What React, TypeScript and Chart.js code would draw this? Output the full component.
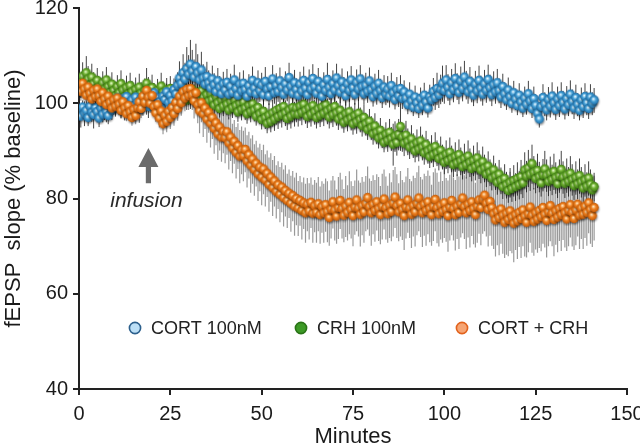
import { useEffect, useRef } from "react";
import { Chart, registerables } from "chart.js";

Chart.register(...registerables);

// sampling: one point every 30 s
const minutes: number[] = Array.from({ length: 283 }, (_, i) => i * 0.5);

const cortValues: number[] = [
  98.6, 97.2, 99.1, 97.8, 98.4, 96.9, 99.3, 98.0, 97.5, 99.0,
  98.2, 96.8, 98.9, 97.6, 99.4, 98.1, 97.3, 99.6, 98.5, 100.2,
  99.1, 101.0, 99.7, 98.6, 100.8, 99.5, 101.3, 100.0, 98.9, 100.6,
  99.4, 101.2, 100.1, 98.7, 100.9, 99.8, 101.5, 100.3, 99.2, 101.7,
  100.5, 102.1, 99.6, 101.0, 100.2, 98.9, 101.4, 100.7, 102.3, 100.1,
  101.6, 100.4, 102.8, 101.9, 103.7, 105.2, 104.1, 106.3, 105.0, 107.2,
  106.0, 108.1, 106.7, 105.4, 107.6, 106.3, 104.8, 106.9, 105.2, 103.9,
  105.5, 104.2, 103.1, 105.0, 103.8, 102.4, 104.6, 103.3, 101.9, 104.0,
  102.7, 104.3, 101.8, 103.5, 102.2, 104.8, 103.0, 101.6, 103.9, 102.5,
  104.1, 102.8, 101.4, 103.6, 102.3, 104.7, 103.1, 101.9, 104.2, 102.6,
  103.8, 101.7, 104.5, 102.9, 101.5, 103.4, 105.0, 102.1, 103.7, 102.4,
  104.6, 103.2, 101.8, 104.0, 102.7, 105.3, 103.5, 102.0, 104.2, 102.8,
  101.6, 103.9, 102.5, 104.7, 103.1, 101.7, 104.3, 102.9, 105.1, 103.4,
  102.0, 104.5, 103.0, 101.4, 103.8, 102.6, 104.9, 103.3, 101.9, 104.1,
  102.7, 105.2, 103.6, 102.2, 104.4, 103.0, 101.5, 104.0, 102.6, 104.8,
  103.2, 101.8, 104.3, 102.9, 105.0, 103.4, 101.9, 103.7, 102.4, 104.6,
  102.8, 101.3, 103.5, 102.0, 104.1, 102.6, 101.1, 103.3, 101.8, 102.9,
  101.4, 103.6, 102.1, 100.7, 102.8, 101.5, 103.0, 100.9, 102.3, 101.0,
  99.6, 101.8, 100.4, 99.1, 101.2, 100.0, 98.8, 100.9, 99.5, 101.6,
  100.2, 98.9, 101.3, 100.6, 102.4, 101.1, 103.0, 101.7, 102.9, 104.1,
  102.6, 104.8, 103.3, 101.9, 104.2, 102.8, 105.1, 103.5, 102.2, 104.6,
  103.0, 105.4, 103.8, 102.3, 104.5, 102.9, 101.6, 103.9, 102.5, 104.7,
  103.1, 101.8, 104.0, 102.6, 104.9, 103.2, 101.7, 103.8, 102.3, 104.2,
  102.6, 101.2, 103.4, 101.9, 100.6, 102.7, 101.3, 99.9, 102.1, 100.8,
  99.4, 101.6, 100.2, 98.9, 101.0, 99.7, 101.9, 100.4, 98.8, 100.9,
  99.5, 97.8, 96.6, 99.2, 101.1, 99.8, 98.5, 100.7, 99.3, 101.4,
  100.0, 98.6, 100.8, 99.4, 101.5, 100.1, 98.7, 100.9, 99.6, 101.8,
  100.3, 98.9, 101.1, 99.7, 98.4, 100.6, 99.2, 101.3, 100.0, 98.8,
  101.2, 99.9, 100.6,
];

const crhValues: number[] = [
  104.5, 103.2, 105.6, 104.1, 106.3, 105.0, 103.8, 105.4, 104.0, 102.9,
  104.7, 103.3, 102.1, 104.2, 102.9, 104.8, 103.4, 102.2, 103.9, 102.6,
  101.5, 103.4, 102.1, 104.0, 102.7, 101.3, 103.2, 101.9, 103.6, 102.3,
  101.0, 102.8, 101.6, 103.3, 102.0, 100.8, 102.5, 104.1, 102.9, 101.6,
  103.2, 101.9, 100.7, 102.6, 101.3, 103.5, 102.2, 100.9, 102.7, 101.4,
  103.0, 101.7, 100.5, 102.4, 101.1, 102.9, 101.6, 103.1, 101.8, 100.6,
  102.3, 101.0, 102.8, 101.5, 100.3, 102.1, 100.8, 102.5, 101.2, 99.9,
  101.7, 100.4, 102.0, 100.7, 99.5, 101.3, 100.0, 98.8, 100.6, 99.3,
  101.0, 99.7, 98.5, 100.3, 99.0, 100.7, 99.4, 98.1, 99.9, 98.6,
  100.2, 98.9, 97.7, 99.5, 98.2, 99.8, 98.5, 97.2, 99.0, 97.7,
  96.5, 98.2, 96.9, 95.7, 97.4, 96.1, 97.9, 96.6, 98.4, 97.1,
  98.8, 97.5, 99.2, 97.9, 96.7, 98.5, 97.2, 99.0, 97.7, 98.9,
  97.6, 99.3, 98.0, 99.7, 98.4, 97.1, 98.9, 97.6, 99.4, 98.1,
  96.9, 98.7, 97.4, 99.1, 97.8, 99.6, 98.3, 97.0, 98.8, 97.5,
  99.2, 97.9, 96.6, 98.4, 97.1, 95.9, 97.7, 96.4, 98.1, 96.8,
  95.6, 97.3, 96.0, 97.8, 96.5, 95.2, 96.9, 95.6, 94.4, 96.1,
  94.8, 93.5, 95.1, 93.8, 92.6, 94.2, 92.9, 91.7, 93.4, 92.1,
  93.8, 92.5, 91.3, 93.0, 91.7, 93.4, 95.0, 92.8, 91.5, 93.2,
  91.9, 90.7, 92.4, 91.1, 89.9, 91.6, 90.3, 92.0, 90.7, 89.5,
  91.2, 89.9, 88.7, 90.4, 89.1, 90.8, 89.5, 88.3, 90.0, 88.7,
  87.5, 89.2, 87.9, 89.6, 88.3, 87.0, 88.7, 87.4, 89.1, 87.8,
  86.6, 88.3, 87.0, 88.8, 87.5, 86.2, 87.9, 86.6, 88.4, 87.1,
  85.9, 87.6, 86.3, 85.0, 86.7, 85.4, 84.2, 85.9, 84.6, 83.3,
  85.0, 83.7, 82.4, 84.1, 82.8, 81.6, 83.3, 82.0, 83.7, 82.4,
  84.1, 82.8, 84.5, 83.2, 85.9, 84.6, 86.3, 85.0, 87.2, 85.4,
  84.1, 85.8, 84.5, 83.2, 84.9, 86.1, 84.8, 83.5, 85.2, 83.9,
  85.6, 84.3, 83.0, 84.7, 86.0, 84.4, 83.1, 84.8, 83.5, 85.2,
  83.9, 82.6, 84.3, 83.0, 84.7, 83.4, 82.1, 83.8, 82.5, 84.2,
  82.9, 81.7, 82.4,
];

const cortCrhValues: number[] = [
  103.8, 102.4, 104.1, 102.9, 101.6, 103.3, 102.0, 100.8, 102.6, 101.3,
  102.9, 101.5, 100.3, 102.1, 100.8, 99.6, 101.4, 100.1, 98.9, 100.6,
  99.3, 101.0, 99.7, 98.4, 100.2, 98.9, 97.7, 99.4, 98.1, 96.9,
  98.6, 97.3, 99.0, 100.2, 98.8, 101.4, 100.1, 102.6, 101.2, 99.9,
  101.5, 99.2, 97.9, 99.6, 96.8, 98.3, 95.6, 97.4, 96.1, 98.2,
  96.9, 99.0, 97.7, 100.1, 98.8, 101.4, 100.0, 102.3, 101.0, 102.8,
  101.5, 103.0, 101.7, 100.4, 102.1, 99.6, 98.3, 100.0, 97.7, 98.9,
  96.6, 98.0, 95.7, 96.9, 94.6, 95.8, 93.5, 94.9, 92.8, 94.0,
  92.7, 93.9, 91.6, 92.8, 90.5, 91.9, 89.6, 91.0, 88.8, 90.1,
  88.9, 90.2, 87.8, 89.1, 86.9, 88.2, 86.0, 87.3, 85.1, 86.5,
  84.4, 86.1, 83.8, 85.2, 82.9, 84.4, 82.2, 83.6, 81.4, 82.8,
  80.8, 82.3, 80.1, 81.6, 79.5, 81.0, 78.9, 80.5, 78.3, 79.9,
  77.9, 79.5, 77.4, 79.0, 76.9, 78.7, 77.3, 79.1, 76.8, 78.4,
  77.0, 78.8, 76.5, 78.2, 76.9, 78.6, 77.2, 75.9, 77.7, 79.2,
  77.5, 76.2, 78.0, 79.5, 77.8, 76.4, 78.3, 77.0, 79.1, 77.6,
  76.3, 78.1, 79.6, 77.9, 76.6, 78.4, 77.1, 78.9, 80.1, 78.2,
  76.9, 78.7, 77.4, 79.2, 77.8, 76.5, 78.3, 79.8, 78.0, 76.7,
  78.5, 77.2, 79.0, 80.2, 78.4, 77.1, 78.9, 77.6, 76.3, 78.1,
  79.6, 77.9, 76.6, 78.4, 77.1, 78.9, 80.0, 78.2, 76.9, 78.7,
  77.4, 79.2, 77.8, 76.5, 78.3, 79.7, 78.0, 76.7, 78.5, 77.2,
  79.0, 77.6, 76.3, 78.1, 79.5, 77.8, 76.5, 78.3, 77.0, 78.8,
  80.0, 78.2, 76.9, 78.7, 77.4, 79.2, 77.8, 76.5, 78.3, 79.6,
  78.0, 79.8, 80.6, 78.9, 77.6, 79.3, 78.0, 76.7, 75.4, 77.2,
  75.9, 77.7, 76.4, 74.9, 76.8, 75.5, 77.3, 76.0, 74.7, 76.5,
  75.2, 77.0, 75.7, 77.5, 76.2, 74.9, 76.7, 78.1, 76.4, 75.1,
  76.9, 75.6, 77.4, 76.1, 78.0, 76.6, 75.3, 77.1, 78.4, 76.8,
  75.5, 77.3, 76.0, 77.8, 76.5, 78.2, 76.9, 75.6, 77.4, 78.6,
  77.0, 75.7, 77.5, 78.7, 76.4, 77.9, 76.6, 78.3, 77.0, 79.0,
  77.6, 76.3, 78.0,
];

const cortErr: number[] = [
  1.8, 2.3, 1.5, 2.6, 2.0, 1.7, 2.4, 1.9, 2.8, 1.6,
  2.2, 1.8, 2.5, 1.6, 2.9, 2.1, 1.7, 2.4, 2.0, 2.6,
  1.9, 2.7, 2.2, 1.8, 2.5, 3.1, 2.0, 2.4, 1.7, 2.3,
  2.6, 1.9, 2.2, 2.8, 1.8, 2.4, 2.0, 2.7, 2.3, 1.9,
  2.5, 2.1, 2.8, 1.9, 2.4, 2.0, 2.6, 2.2, 1.8, 2.5,
  2.2, 2.9, 2.4, 3.2, 2.8, 3.6, 3.1, 4.0, 3.5, 4.6,
  4.1, 5.2, 4.5, 3.8, 4.9, 4.0, 3.4, 3.9, 3.0, 2.6,
  3.2, 2.7, 2.3, 2.9, 2.5, 2.1, 2.8, 2.4, 2.0, 2.6,
  2.3, 2.9, 2.1, 2.7, 2.4, 3.3, 2.2, 1.9, 2.6, 2.3,
  2.8, 2.2, 1.9, 2.5, 2.1, 3.0, 2.4, 2.0, 2.7, 2.3,
  2.6, 2.0, 3.1, 2.4, 1.9, 2.5, 3.0, 2.2, 2.6, 2.1,
  2.9, 2.4, 2.0, 2.7, 2.3, 3.2, 2.5, 2.1, 2.8, 2.4,
  2.0, 2.7, 2.3, 3.0, 2.5, 2.1, 2.8, 2.4, 3.1, 2.6,
  2.2, 2.9, 2.4, 2.0, 2.7, 2.3, 3.6, 2.6, 2.1, 2.8,
  2.4, 3.1, 2.6, 2.2, 2.9, 2.5, 2.0, 2.7, 2.3, 3.0,
  2.5, 2.1, 2.8, 2.4, 3.0, 2.6, 2.2, 2.7, 2.3, 2.9,
  2.4, 2.0, 2.7, 2.3, 2.9, 2.5, 2.1, 2.6, 2.2, 2.8,
  2.3, 2.8, 2.4, 2.0, 2.7, 2.3, 2.9, 2.1, 2.5, 2.2,
  1.9, 2.6, 2.2, 1.8, 2.5, 2.1, 1.9, 2.4, 2.0, 2.7,
  2.3, 1.9, 2.6, 2.2, 2.9, 2.5, 3.4, 2.7, 3.1, 3.8,
  2.7, 3.2, 2.8, 2.3, 3.0, 2.6, 3.3, 2.8, 2.4, 3.1,
  2.6, 3.5, 3.0, 2.4, 3.1, 2.7, 2.2, 2.9, 2.5, 3.2,
  2.7, 2.3, 3.0, 2.5, 3.2, 2.8, 2.3, 2.9, 2.4, 3.0,
  2.6, 2.2, 2.8, 2.4, 2.0, 2.7, 2.3, 1.9, 2.6, 2.2,
  1.9, 2.6, 2.2, 1.8, 2.5, 2.1, 2.8, 2.3, 1.9, 2.6,
  2.2, 1.8, 1.7, 2.4, 2.9, 2.5, 2.1, 2.7, 2.3, 3.0,
  2.5, 2.1, 2.7, 2.3, 2.9, 2.5, 2.1, 2.7, 2.3, 3.0,
  2.6, 2.2, 2.8, 2.4, 2.0, 2.7, 2.3, 2.9, 2.5, 2.1,
  2.8, 2.4, 2.6,
];

const crhErr: number[] = [
  2.6, 2.1, 3.0, 2.4, 3.6, 2.8, 2.3, 2.9, 2.5, 2.0,
  2.7, 2.2, 1.9, 2.5, 2.1, 2.8, 2.3, 1.9, 2.6, 2.2,
  1.8, 2.5, 2.1, 2.9, 2.3, 1.9, 2.6, 2.2, 2.8, 2.4,
  2.0, 2.6, 2.2, 2.9, 2.4, 2.0, 2.7, 3.3, 2.6, 2.1,
  2.8, 2.3, 1.9, 2.5, 2.1, 2.9, 2.4, 2.0, 2.6, 2.2,
  2.7, 2.3, 1.9, 2.5, 2.1, 2.6, 2.2, 2.8, 2.4, 2.0,
  2.6, 2.2, 2.8, 2.4, 2.0, 2.6, 2.2, 2.8, 2.3, 1.9,
  2.6, 2.2, 2.7, 2.3, 1.9, 2.5, 2.1, 1.8, 2.4, 2.0,
  2.6, 2.2, 1.9, 2.5, 2.1, 2.7, 2.3, 2.0, 2.6, 2.2,
  2.8, 2.4, 2.0, 2.6, 2.2, 2.7, 2.3, 1.9, 2.5, 2.1,
  2.0, 2.7, 2.3, 2.0, 2.6, 2.2, 2.8, 2.4, 2.9, 2.5,
  3.0, 2.6, 3.1, 2.7, 2.3, 2.9, 2.5, 3.0, 2.6, 2.9,
  2.5, 3.0, 2.6, 3.1, 2.7, 2.3, 2.9, 2.5, 3.0, 2.6,
  2.2, 2.8, 2.4, 3.0, 2.6, 3.1, 2.7, 2.3, 2.9, 2.5,
  3.0, 2.6, 2.2, 2.8, 2.4, 2.1, 2.7, 2.3, 2.9, 2.5,
  2.2, 2.8, 2.4, 3.0, 2.6, 2.2, 2.8, 2.4, 2.1, 2.7,
  2.5, 2.2, 2.8, 2.4, 2.1, 2.7, 2.3, 2.0, 2.6, 2.3,
  2.9, 2.5, 4.4, 3.2, 2.7, 3.3, 5.0, 3.0, 2.6, 3.1,
  2.8, 2.4, 3.0, 2.6, 2.3, 2.9, 2.5, 3.1, 2.7, 2.4,
  3.0, 2.6, 2.3, 2.9, 2.5, 3.1, 2.7, 2.4, 3.0, 2.6,
  2.4, 3.0, 2.6, 3.2, 2.8, 2.5, 3.1, 2.7, 3.3, 2.9,
  2.6, 3.2, 2.8, 3.4, 3.0, 2.6, 3.2, 2.8, 3.4, 3.0,
  2.7, 3.3, 2.9, 2.6, 3.2, 2.8, 2.5, 3.1, 2.8, 2.5,
  3.1, 2.8, 2.5, 3.1, 2.8, 2.5, 3.1, 2.7, 3.3, 2.9,
  3.5, 3.0, 3.6, 3.1, 3.8, 3.3, 3.9, 3.4, 4.1, 3.5,
  3.0, 3.6, 3.2, 2.8, 3.4, 3.9, 3.4, 3.0, 3.6, 3.2,
  3.8, 3.3, 2.9, 3.5, 4.0, 3.4, 3.0, 3.6, 3.1, 3.7,
  3.3, 2.9, 3.5, 3.1, 3.7, 3.2, 2.8, 3.4, 3.0, 3.6,
  3.2, 2.8, 3.0,
];

const cortCrhErr: number[] = [
  1.6, 1.9, 1.4, 1.8, 1.5, 2.0, 1.7, 1.4, 1.9, 1.6,
  2.0, 1.7, 1.5, 1.9, 1.6, 1.4, 1.8, 1.6, 1.5, 1.9,
  1.7, 2.0, 1.8, 1.5, 1.9, 1.7, 1.5, 2.0, 1.8, 1.6,
  2.0, 1.7, 2.1, 2.3, 1.9, 2.2, 2.0, 2.4, 2.1, 1.9,
  2.3, 2.0, 1.8, 2.2, 1.9, 2.4, 2.1, 2.5, 2.2, 2.6,
  2.3, 2.7, 2.4, 2.8, 2.5, 2.9, 2.6, 3.0, 2.7, 3.1,
  2.9, 3.4, 3.1, 3.6, 4.2, 3.8, 4.6, 4.0, 4.8, 4.3,
  4.9, 4.2, 5.0, 4.4, 5.2, 4.6, 5.4, 4.8, 5.1, 4.5,
  5.3, 4.7, 5.5, 4.9, 5.2, 4.6, 5.4, 4.8, 5.6, 5.0,
  5.3, 4.7, 5.5, 4.9, 5.7, 5.1, 5.4, 4.8, 5.6, 5.0,
  5.8, 5.2, 5.5, 4.9, 5.7, 5.1, 5.9, 5.3, 5.6, 5.0,
  5.8, 5.2, 6.0, 5.4, 5.7, 5.1, 5.9, 5.3, 6.1, 5.5,
  5.8, 5.2, 6.0, 5.4, 6.2, 5.6, 5.9, 5.3, 6.1, 5.5,
  6.3, 5.7, 6.0, 5.4, 6.2, 5.6, 6.4, 5.8, 6.1, 5.5,
  6.3, 5.7, 6.5, 5.9, 6.2, 5.6, 6.4, 5.8, 6.6, 6.0,
  6.3, 5.7, 6.5, 5.9, 6.7, 6.1, 6.4, 5.8, 6.6, 6.0,
  6.8, 6.2, 6.5, 5.9, 6.7, 6.1, 6.9, 6.3, 6.6, 6.0,
  6.8, 6.2, 7.0, 6.4, 6.7, 6.1, 6.9, 6.3, 7.1, 6.5,
  6.8, 6.2, 7.0, 6.4, 7.2, 6.6, 6.9, 6.3, 7.1, 6.5,
  7.3, 6.7, 7.0, 6.4, 7.2, 6.6, 7.4, 6.8, 7.1, 6.5,
  7.3, 6.7, 7.5, 6.9, 7.2, 6.6, 7.4, 6.8, 7.6, 7.0,
  7.3, 6.7, 7.5, 6.9, 7.7, 7.1, 7.4, 6.8, 7.6, 7.0,
  7.8, 7.2, 7.5, 6.9, 7.7, 7.1, 7.9, 7.3, 7.6, 7.0,
  7.8, 7.2, 8.0, 7.4, 8.6, 7.6, 8.3, 7.5, 8.1, 7.3,
  7.9, 7.2, 8.2, 7.5, 8.4, 7.3, 8.0, 7.4, 7.8, 7.1,
  7.6, 7.0, 7.8, 7.2, 7.5, 6.9, 7.7, 7.1, 7.4, 6.8,
  7.6, 7.0, 7.3, 6.7, 7.5, 6.9, 7.2, 6.6, 7.4, 6.8,
  7.1, 6.5, 7.3, 6.7, 7.0, 6.4, 7.2, 6.6, 6.9, 6.3,
  7.1, 6.5, 6.8,
];

const seriesLabels: string[] = ["CORT 100nM", "CRH 100nM", "CORT + CRH"];
const xTicks: number[] = [0, 25, 50, 75, 100, 125, 150];
const yTicks: number[] = [40, 60, 80, 100, 120];

// annotation anchor (data units)
const infusionX = 19;
const infusionArrow = { tip: 90.6, headBase: 86.6, tail: 83.2 };
const infusionTextY = 78.2;

const FONT = "'Liberation Sans', Arial, Helvetica, sans-serif";

function makeSprite(light: string, base: string, edge: string): HTMLCanvasElement {
  const c = document.createElement("canvas");
  c.width = 14;
  c.height = 14;
  const g = c.getContext("2d")!;
  g.shadowColor = "rgba(0,0,0,0.45)";
  g.shadowBlur = 2;
  g.shadowOffsetX = 0.5;
  g.shadowOffsetY = 1.5;
  const grad = g.createRadialGradient(6.2, 5.4, 0.3, 7, 6.5, 4.8);
  grad.addColorStop(0, light);
  grad.addColorStop(0.45, base);
  grad.addColorStop(1, edge);
  g.fillStyle = grad;
  g.beginPath();
  g.arc(7, 6.5, 4.7, 0, Math.PI * 2);
  g.fill();
  return c;
}

export default function App() {
  const ref = useRef<HTMLCanvasElement | null>(null);

  useEffect(() => {
    document.body.style.margin = "0";
    const canvas = ref.current;
    if (!canvas) return;

    const spriteBlue = makeSprite("#e6f6ff", "#45a0d6", "#1d6aa3");
    const spriteGreen = makeSprite("#e2f8c4", "#6fb032", "#3d7d12");
    const spriteOrange = makeSprite("#ffe6bf", "#ee801f", "#c05806");

    const errorBars = {
      id: "errorBars",
      beforeDatasetsDraw(chart: any) {
        const { ctx, scales } = chart;
        const sx = scales.x;
        const sy = scales.y;
        const groups: [number[], number[], string, number][] = [
          [cortCrhValues, cortCrhErr, "rgba(128,128,128,0.8)", 1.2],
          [crhValues, crhErr, "rgba(20,20,20,0.8)", 1],
          [cortValues, cortErr, "rgba(20,20,20,0.8)", 1],
        ];
        ctx.save();
        ctx.beginPath();
        ctx.rect(chart.chartArea.left, chart.chartArea.top, chart.chartArea.width, chart.chartArea.height);
        ctx.clip();
        for (const [vals, errs, color, w] of groups) {
          ctx.strokeStyle = color;
          ctx.lineWidth = w;
          ctx.beginPath();
          for (let i = 0; i < vals.length; i++) {
            const px = sx.getPixelForValue(minutes[i]);
            ctx.moveTo(px, sy.getPixelForValue(vals[i] - errs[i]));
            ctx.lineTo(px, sy.getPixelForValue(vals[i] + errs[i]));
          }
          ctx.stroke();
        }
        ctx.restore();
      },
    };

    const overlay = {
      id: "overlay",
      afterDatasetsDraw(chart: any) {
        const { ctx, scales, chartArea } = chart;
        const sx = scales.x;
        const sy = scales.y;
        ctx.save();
        const ax = sx.getPixelForValue(infusionX);
        const tip = sy.getPixelForValue(infusionArrow.tip);
        const hb = sy.getPixelForValue(infusionArrow.headBase);
        const tail = sy.getPixelForValue(infusionArrow.tail);
        ctx.fillStyle = "#6b6b6b";
        ctx.beginPath();
        ctx.moveTo(ax, tip);
        ctx.lineTo(ax + 10, hb);
        ctx.lineTo(ax + 2.6, hb);
        ctx.lineTo(ax + 2.6, tail);
        ctx.lineTo(ax - 2.6, tail);
        ctx.lineTo(ax - 2.6, hb);
        ctx.lineTo(ax - 10, hb);
        ctx.closePath();
        ctx.fill();
        ctx.font = `italic 21px ${FONT}`;
        ctx.fillStyle = "#2a2a2a";
        ctx.textAlign = "center";
        ctx.textBaseline = "alphabetic";
        ctx.fillText("infusion", ax - 2, sy.getPixelForValue(infusionTextY));

        const ly = chartArea.top + 320;
        const items: [string, string, string, number][] = [
          [seriesLabels[0], "#bcdff6", "#2c5f8c", chartArea.left + 56],
          [seriesLabels[1], "#3d9a26", "#2a7417", chartArea.left + 222],
          [seriesLabels[2], "#f6a574", "#e2621c", chartArea.left + 383],
        ];
        ctx.font = `18px ${FONT}`;
        ctx.textAlign = "left";
        ctx.textBaseline = "middle";
        for (const [text, fill, stroke, x] of items) {
          ctx.beginPath();
          ctx.arc(x, ly, 5.6, 0, Math.PI * 2);
          ctx.fillStyle = fill;
          ctx.fill();
          ctx.lineWidth = 1.6;
          ctx.strokeStyle = stroke;
          ctx.stroke();
          ctx.fillStyle = "#222";
          ctx.fillText(text, x + 16, ly + 1);
        }
        ctx.restore();
      },
    };

    const toPts = (vals: number[]) => vals.map((v, i) => ({ x: minutes[i], y: v }));

    const chart = new Chart(canvas, {
      type: "scatter",
      data: {
        datasets: [
          { label: seriesLabels[2], data: toPts(cortCrhValues), pointStyle: spriteOrange as any, pointRadius: 4.7, order: 0 },
          { label: seriesLabels[0], data: toPts(cortValues), pointStyle: spriteBlue as any, pointRadius: 4.7, order: 1 },
          { label: seriesLabels[1], data: toPts(crhValues), pointStyle: spriteGreen as any, pointRadius: 4.7, order: 2 },
        ],
      },
      options: {
        animation: false,
        responsive: false,
        devicePixelRatio: 1,
        layout: { padding: { top: 8, right: 13, left: 0, bottom: 0 } },
        plugins: { legend: { display: false }, tooltip: { enabled: false } },
        scales: {
          x: {
            type: "linear",
            min: 0,
            max: 150,
            afterBuildTicks: (s: any) => {
              s.ticks = xTicks.map((v) => ({ value: v }));
            },
            ticks: { font: { size: 20, family: FONT }, color: "#1a1a1a", padding: 7, maxRotation: 0, autoSkip: false },
            grid: { drawOnChartArea: false, drawTicks: true, tickLength: 6, color: "#222", lineWidth: 2 },
            border: { color: "#222", width: 2 },
            title: { display: true, text: "Minutes", font: { size: 22, family: FONT }, color: "#1a1a1a", padding: { top: 0, bottom: -2 } },
            afterFit: (s: any) => {
              s.height = 59;
              s.paddingLeft = 0;
              s.paddingRight = 0;
            },
          },
          y: {
            min: 40,
            max: 120,
            afterBuildTicks: (s: any) => {
              s.ticks = yTicks.map((v) => ({ value: v }));
            },
            ticks: { font: { size: 20, family: FONT }, color: "#1a1a1a", padding: 5 },
            grid: { drawOnChartArea: false, drawTicks: true, tickLength: 6, color: "#222", lineWidth: 2 },
            border: { color: "#222", width: 2 },
            title: { display: true, text: "fEPSP  slope (% baseline)", font: { size: 22, family: FONT }, color: "#1a1a1a", padding: { top: 1, bottom: 0 } },
            afterFit: (s: any) => {
              s.width = 79;
              s.paddingTop = 0;
              s.paddingBottom = 0;
            },
          },
        },
      },
      plugins: [errorBars, overlay],
    });

    return () => chart.destroy();
  }, []);

  return (
    <div style={{ width: 640, height: 448, position: "relative", background: "#fff" }}>
      <canvas ref={ref} width={640} height={448} style={{ display: "block" }} />
    </div>
  );
}
